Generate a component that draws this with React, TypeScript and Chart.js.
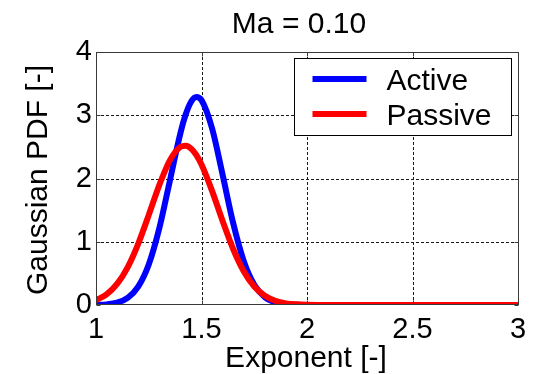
import React, { useEffect, useRef } from "react";
import { Chart, registerables } from "chart.js";

Chart.register(...registerables);

const TITLE = "Ma = 0.10";
const X_LABEL = "Exponent [-]";
const Y_LABEL = "Gaussian PDF [-]";
const SERIES_NAMES = ["Active", "Passive"];
const SERIES_COLORS = ["#0000ff", "#ff0000"];

const EXPONENT = [1.0, 1.05, 1.1, 1.15, 1.2, 1.25, 1.3, 1.35, 1.4, 1.425, 1.45, 1.475, 1.5, 1.55, 1.6, 1.65, 1.7, 1.75, 1.8, 1.85, 1.9, 1.95, 2.0, 2.05, 2.5, 3.0];
const ACTIVE = [0.003, 0.01, 0.037, 0.111, 0.289, 0.64, 1.213, 1.964, 2.716, 3.011, 3.21, 3.289, 3.24, 2.794, 2.059, 1.296, 0.697, 0.32, 0.125, 0.042, 0.012, 0.003, 0.001, 0, 0, 0];
const PASSIVE = [0.077, 0.168, 0.333, 0.596, 0.968, 1.423, 1.896, 2.287, 2.5, 2.519, 2.476, 2.374, 2.22, 1.804, 1.328, 0.885, 0.534, 0.292, 0.145, 0.065, 0.026, 0.01, 0.003, 0.001, 0, 0];

const X_TICKS = [1, 1.5, 2, 2.5, 3];
const X_TICK_LABELS = ["1", "1.5", "2", "2.5", "3"];
const Y_TICKS = [0, 1, 2, 3, 4];
const Y_TICK_LABELS = ["0", "1", "2", "3", "4"];

const FONT = "'Liberation Sans', Arial, Helvetica, sans-serif";
const TICK_SIZE = 29;
const LABEL_SIZE = 30;

const decor = {
  id: "matlabDecor",
  beforeDatasetsDraw(chart: any) {
    const { ctx, chartArea: a, scales } = chart;
    const x = scales.x;
    const y = scales.y;
    ctx.save();
    ctx.strokeStyle = "#1a1a1a";
    ctx.lineWidth = 1;
    ctx.setLineDash([3, 2]);
    ctx.beginPath();
    X_TICKS.forEach((v) => {
      if (v === x.min || v === x.max) return;
      const px = Math.round(x.getPixelForValue(v)) + 0.5;
      ctx.moveTo(px, a.top);
      ctx.lineTo(px, a.bottom);
    });
    Y_TICKS.forEach((v) => {
      if (v === y.min || v === y.max) return;
      const py = Math.round(y.getPixelForValue(v)) + 0.5;
      ctx.moveTo(a.left, py);
      ctx.lineTo(a.right, py);
    });
    ctx.stroke();
    ctx.restore();
  },
  afterDatasetsDraw(chart: any) {
    const { ctx, chartArea: a, scales } = chart;
    const x = scales.x;
    const y = scales.y;
    ctx.save();
    // box
    ctx.strokeStyle = "#3a3a3a";
    ctx.lineWidth = 1;
    ctx.setLineDash([]);
    const L = Math.round(a.left) + 0.5;
    const R = Math.round(a.right) + 0.5;
    const T = Math.round(a.top) + 0.5;
    const B = Math.round(a.bottom) - 0.5;
    ctx.strokeRect(L, T, R - L, B - T);
    // inward ticks
    ctx.beginPath();
    const tl = 4;
    X_TICKS.forEach((v) => {
      const px = Math.round(x.getPixelForValue(v)) + 0.5;
      ctx.moveTo(px, T);
      ctx.lineTo(px, T + tl);
      ctx.moveTo(px, B);
      ctx.lineTo(px, B - tl);
    });
    Y_TICKS.forEach((v) => {
      const py = Math.round(y.getPixelForValue(v)) + 0.5;
      ctx.moveTo(L, py);
      ctx.lineTo(L + tl, py);
      ctx.moveTo(R, py);
      ctx.lineTo(R - tl, py);
    });
    ctx.stroke();

    // legend
    const bx0 = Math.round(a.right - 224) + 0.5;
    const bx1 = Math.round(a.right - 7) + 0.5;
    const by0 = Math.round(a.top + 6) + 0.5;
    const by1 = Math.round(a.top + 83) + 0.5;
    ctx.fillStyle = "#ffffff";
    ctx.fillRect(bx0, by0, bx1 - bx0, by1 - by0);
    ctx.strokeStyle = "#000000";
    ctx.strokeRect(bx0, by0, bx1 - bx0, by1 - by0);
    chart.data.datasets.forEach((ds: any, i: number) => {
      const ly = a.top + 27 + i * 35;
      ctx.strokeStyle = ds.borderColor;
      ctx.lineWidth = 6;
      ctx.beginPath();
      ctx.moveTo(bx0 + 18, ly);
      ctx.lineTo(bx0 + 72, ly);
      ctx.stroke();
      ctx.fillStyle = "#000000";
      ctx.font = `${LABEL_SIZE}px ${FONT}`;
      ctx.textAlign = "left";
      ctx.textBaseline = "alphabetic";
      ctx.fillText(ds.label, bx0 + 92, ly + 11);
    });
    ctx.restore();
  },
  afterDraw(chart: any) {
    const { ctx, chartArea: a } = chart;
    const cx = (a.left + a.right) / 2;
    const cy = (a.top + a.bottom) / 2;
    ctx.save();
    ctx.fillStyle = "#000000";
    ctx.font = `${LABEL_SIZE}px ${FONT}`;
    ctx.textAlign = "center";
    ctx.textBaseline = "alphabetic";
    ctx.fillText(TITLE, cx - 8, 33);
    ctx.fillText(X_LABEL, cx - 1, 367);
    ctx.translate(47, cy + 1.5);
    ctx.rotate(-Math.PI / 2);
    ctx.fillText(Y_LABEL, 0, 0);
    ctx.restore();
  },
};

export default function App() {
  const ref = useRef<HTMLCanvasElement | null>(null);
  useEffect(() => {
    if (!ref.current) return;
    const series = [ACTIVE, PASSIVE];
    const chart = new Chart(ref.current, {
      type: "line",
      data: {
        datasets: series.map((vals, i) => ({
          label: SERIES_NAMES[i],
          data: EXPONENT.map((xv, j) => ({ x: xv, y: vals[j] })),
          borderColor: SERIES_COLORS[i],
          backgroundColor: SERIES_COLORS[i],
          borderWidth: 6,
          pointRadius: 0,
          fill: false,
          cubicInterpolationMode: "monotone",
          clip: 0,
          order: i === 0 ? 1 : 0,
        })),
      },
      options: {
        animation: false,
        responsive: false,
        devicePixelRatio: 1,
        layout: { padding: { top: 52, right: 19, bottom: 0, left: 0 } },
        plugins: {
          legend: { display: false },
          title: { display: false },
          tooltip: { enabled: false },
        },
        scales: {
          x: {
            type: "linear",
            min: 1,
            max: 3,
            afterBuildTicks: (s: any) => {
              s.ticks = X_TICKS.map((v) => ({ value: v }));
            },
            afterFit: (s: any) => {
              s.height = 69;
            },
            grid: { display: false, drawTicks: false },
            border: { display: false },
            ticks: {
              color: "#000000",
              padding: 8,
              maxRotation: 0,
              autoSkip: false,
              font: { family: FONT, size: TICK_SIZE },
              callback: (v: any) => X_TICK_LABELS[X_TICKS.indexOf(Number(v))] ?? "",
            },
          },
          y: {
            type: "linear",
            min: 0,
            max: 4,
            afterBuildTicks: (s: any) => {
              s.ticks = Y_TICKS.map((v) => ({ value: v }));
            },
            afterFit: (s: any) => {
              s.width = 96;
            },
            grid: { display: false, drawTicks: false },
            border: { display: false },
            ticks: {
              color: "#000000",
              padding: 4,
              autoSkip: false,
              font: { family: FONT, size: TICK_SIZE },
              callback: (v: any) => Y_TICK_LABELS[Y_TICKS.indexOf(Number(v))] ?? "",
            },
          },
        },
      },
      plugins: [decor],
    });
    return () => chart.destroy();
  }, []);
  return (
    <div style={{ position: "fixed", left: 0, top: 0, width: 537, height: 374, background: "#ffffff" }}>
      <canvas ref={ref} width={537} height={374} />
    </div>
  );
}
